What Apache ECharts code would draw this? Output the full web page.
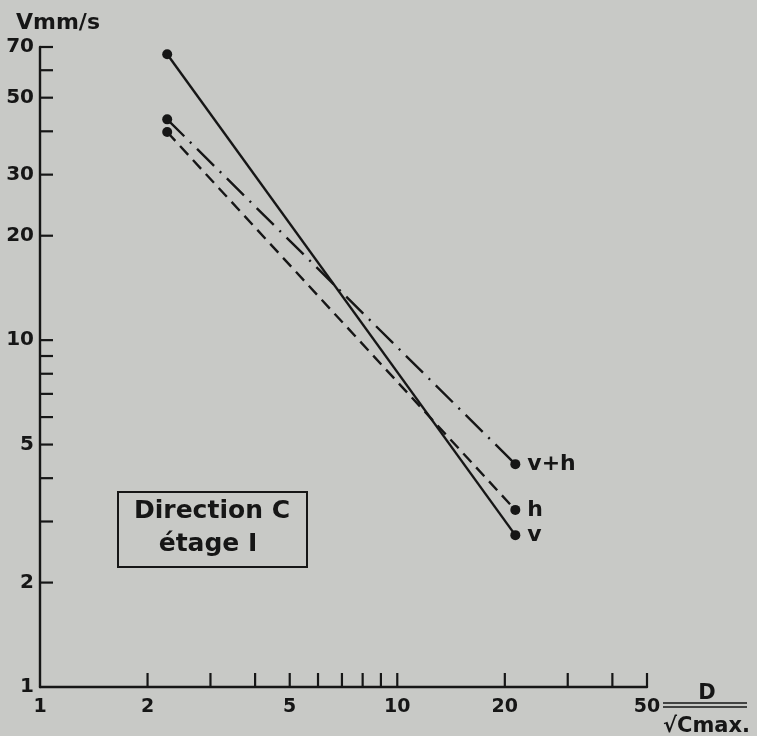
<!DOCTYPE html>
<html><head><meta charset="utf-8">
<script src="https://cdn.jsdelivr.net/npm/echarts@6/dist/echarts.min.js"></script>
<style>html,body{margin:0;padding:0;background:#c8c9c6}#c{width:757px;height:736px}</style>
</head><body><div id="c"></div>
<script>
// Data
const xValues = [2.27, 21.4];
const vValues = [66.7, 2.74];
const hValues = [39.8, 3.24];
const vhValues = [43.3, 4.39];
const seriesNames = ['v', 'h', 'v+h'];
const xTicks = [2, 3, 4, 5, 6, 7, 8, 9, 10, 20, 30, 40, 50];
const yTicks = [2, 3, 4, 5, 6, 7, 8, 9, 10, 20, 30, 40, 50, 60, 70];
const xTickLabels = [1, 2, 5, 10, 20, 50];
const yTickLabels = [1, 2, 5, 10, 20, 30, 50, 70];

const INK = '#161616';
const FONT = '"DejaVu Sans", sans-serif';
const FW = 'bold';

function mkData(ys, name) {
  return xValues.map((x, i) => {
    if (i === xValues.length - 1) {
      return { value: [x, ys[i]], label: { show: true, position: 'right', distance: 7, formatter: name,
        color: INK, fontSize: 22, fontFamily: FONT, fontWeight: FW } };
    }
    return [x, ys[i]];
  });
}

function lineSeries(ys, name, type) {
  return {
    type: 'line', name: name, data: mkData(ys, name),
    symbol: 'circle', symbolSize: 10, showSymbol: true,
    itemStyle: { color: INK },
    lineStyle: { color: INK, width: 2.4, type: type, cap: 'butt' },
    label: { show: false },
    z: 5, silent: true
  };
}

const chart = echarts.init(document.getElementById('c'), null, { renderer: 'canvas' });
chart.setOption({
  backgroundColor: '#c8c9c6',
  animation: false,
  grid: { left: 40, right: 110, top: 47, bottom: 49 },
  xAxis: {
    type: 'log', logBase: 10, min: 1, max: 50,
    axisLine: { show: true, lineStyle: { color: INK, width: 2.4 } },
    axisTick: { show: false }, axisLabel: { show: false }, splitLine: { show: false }
  },
  yAxis: {
    type: 'log', logBase: 10, min: 1, max: 70,
    axisLine: { show: true, lineStyle: { color: INK, width: 2.4 } },
    axisTick: { show: false }, axisLabel: { show: false }, splitLine: { show: false }
  },
  series: [
    lineSeries(vValues, seriesNames[0], 'solid'),
    lineSeries(hValues, seriesNames[1], [12, 7]),
    lineSeries(vhValues, seriesNames[2], [24, 8, 2, 8]),
    {
      type: 'custom', silent: true, z: 3,
      data: xTicks.map(v => [v, 1]),
      renderItem: (p, api) => {
        const c = api.coord([api.value(0), api.value(1)]);
        return { type: 'line', shape: { x1: c[0], y1: c[1], x2: c[0], y2: c[1] - 14 },
          style: { stroke: INK, lineWidth: 2.2 } };
      }
    },
    {
      type: 'custom', silent: true, z: 3,
      data: yTicks.map(v => [1, v]),
      renderItem: (p, api) => {
        const c = api.coord([api.value(0), api.value(1)]);
        return { type: 'line', shape: { x1: c[0], y1: c[1], x2: c[0] + 13, y2: c[1] },
          style: { stroke: INK, lineWidth: 2.2 } };
      }
    },
    {
      type: 'custom', silent: true, z: 3,
      data: xTickLabels.map(v => [v, 1]),
      renderItem: (p, api) => {
        const v = api.value(0);
        const c = api.coord([v, api.value(1)]);
        return { type: 'text', x: c[0], y: c[1] + 11,
          style: { text: String(v), fill: INK, fontSize: 19, fontFamily: FONT, fontWeight: FW, align: 'center', verticalAlign: 'top' } };
      }
    },
    {
      type: 'custom', silent: true, z: 3,
      data: yTickLabels.map(v => [1, v]),
      renderItem: (p, api) => {
        const v = api.value(1);
        const c = api.coord([api.value(0), v]);
        return { type: 'text', x: c[0] - 6, y: c[1],
          style: { text: String(v), fill: INK, fontSize: 20, fontFamily: FONT, fontWeight: FW, align: 'right', verticalAlign: 'middle' } };
      }
    }
  ],
  graphic: [
    { type: 'text', left: 16, top: 12, style: { text: 'Vmm/s', fill: INK, fontSize: 22, fontFamily: FONT, fontWeight: FW } },
    { type: 'text', x: 707, y: 704, style: { text: 'D', fill: INK, fontSize: 21, fontFamily: FONT, fontWeight: FW, align: 'center', verticalAlign: 'bottom' } },
    { type: 'line', shape: { x1: 663, y1: 703, x2: 747, y2: 703 }, style: { stroke: INK, lineWidth: 1.6 } },
    { type: 'line', shape: { x1: 663, y1: 707, x2: 747, y2: 707 }, style: { stroke: INK, lineWidth: 1.6 } },
    { type: 'text', x: 663, y: 737, style: { text: '√Cmax.', fill: INK, fontSize: 21, fontFamily: FONT, fontWeight: FW, align: 'left', verticalAlign: 'bottom' } },
    { type: 'rect', shape: { x: 118, y: 492, width: 189, height: 75 }, style: { fill: 'none', stroke: INK, lineWidth: 2 } },
    { type: 'text', x: 212, y: 524, style: { text: 'Direction C', fill: INK, fontSize: 25, fontFamily: FONT, fontWeight: FW, align: 'center', verticalAlign: 'bottom' } },
    { type: 'text', x: 208, y: 557, style: { text: 'étage I', fill: INK, fontSize: 25, fontFamily: FONT, fontWeight: FW, align: 'center', verticalAlign: 'bottom' } }
  ]
});
</script></body></html>
